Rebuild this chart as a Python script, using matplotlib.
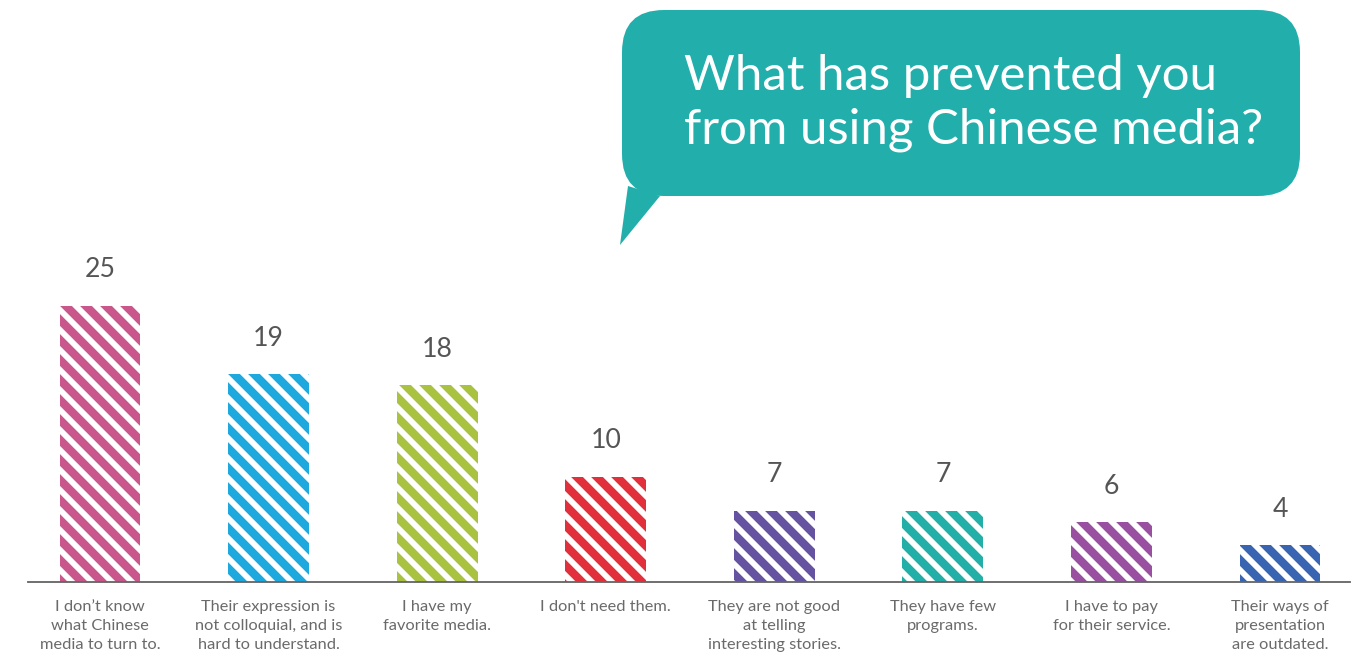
import matplotlib
matplotlib.use("Agg")
import matplotlib.pyplot as plt
from matplotlib.patches import FancyBboxPatch, Polygon

# data
categories = [
    "I don\u2019t know\nwhat Chinese\nmedia to turn to.",
    "Their expression is\nnot colloquial, and is\nhard to understand.",
    "I have my\nfavorite media.",
    "I don't need them.",
    "They are not good\nat telling\ninteresting stories.",
    "They have few\nprograms.",
    "I have to pay\nfor their service.",
    "Their ways of\npresentation\nare outdated.",
]
values = [25, 19, 18, 10, 7, 7, 6, 4]
colors = ["#C9578C", "#1EA9DE", "#A9C23F", "#E1303B",
          "#6553A1", "#22AFA8", "#9A50A1", "#3864B1"]
question = "What has prevented you\nfrom using Chinese media?"

W, H, DPI = 1361, 655, 120
plt.rcParams["font.family"] = ["Lato", "DejaVu Sans"]
plt.rcParams["hatch.linewidth"] = 5.0

fig = plt.figure(figsize=(W / DPI, H / DPI), dpi=DPI)

# main bar axes, pixel-placed
px_per_cat = 168.57
px_per_unit = 11.4
y0 = 0.75
left_px, right_px, base_px = 28, 1350, 582
ax = fig.add_axes([left_px / W, (H - base_px) / H,
                   (right_px - left_px) / W, base_px / H])
ax.set_xlim(-(100 - left_px) / px_per_cat, 7 + (right_px - 1280) / px_per_cat)
ax.set_ylim(y0, y0 + base_px / px_per_unit)

x = list(range(len(values)))
for xi, v, c in zip(x, values, colors):
    ax.bar(xi, v, width=0.48, color="white", edgecolor=c, linewidth=0,
           hatch="\\\\")
    ax.annotate(str(v), (xi, v), xytext=(0, 14), textcoords="offset points",
                ha="center", va="bottom", fontsize=16, color="#555555")

for s in ["top", "left", "right"]:
    ax.spines[s].set_visible(False)
ax.spines["bottom"].set_color("#666666")
ax.spines["bottom"].set_linewidth(1.1)
ax.set_yticks([])
ax.set_xticks(x)
ax.set_xticklabels(categories, fontsize=9.8, color="#6a6a6a",
                   linespacing=1.45)
ax.tick_params(axis="x", length=0, pad=11)
ax.patch.set_alpha(0)

# speech bubble overlay in pixel coordinates
ov = fig.add_axes([0, 0, 1, 1])
ov.set_xlim(0, W)
ov.set_ylim(H, 0)
ov.axis("off")
ov.patch.set_alpha(0)
teal = "#22AFAC"
ov.add_patch(FancyBboxPatch((662, 50), 598, 106,
                            boxstyle="round,pad=40,rounding_size=42",
                            facecolor=teal, edgecolor="none"))
ov.add_patch(Polygon([(628, 186), (660, 196), (620, 245)],
                     closed=True, facecolor=teal, edgecolor="none"))
ov.text(684, 103, question, ha="left", va="center", fontsize=29.5,
        color="white", linespacing=1.25)

fig.savefig("out.png", dpi=DPI)
